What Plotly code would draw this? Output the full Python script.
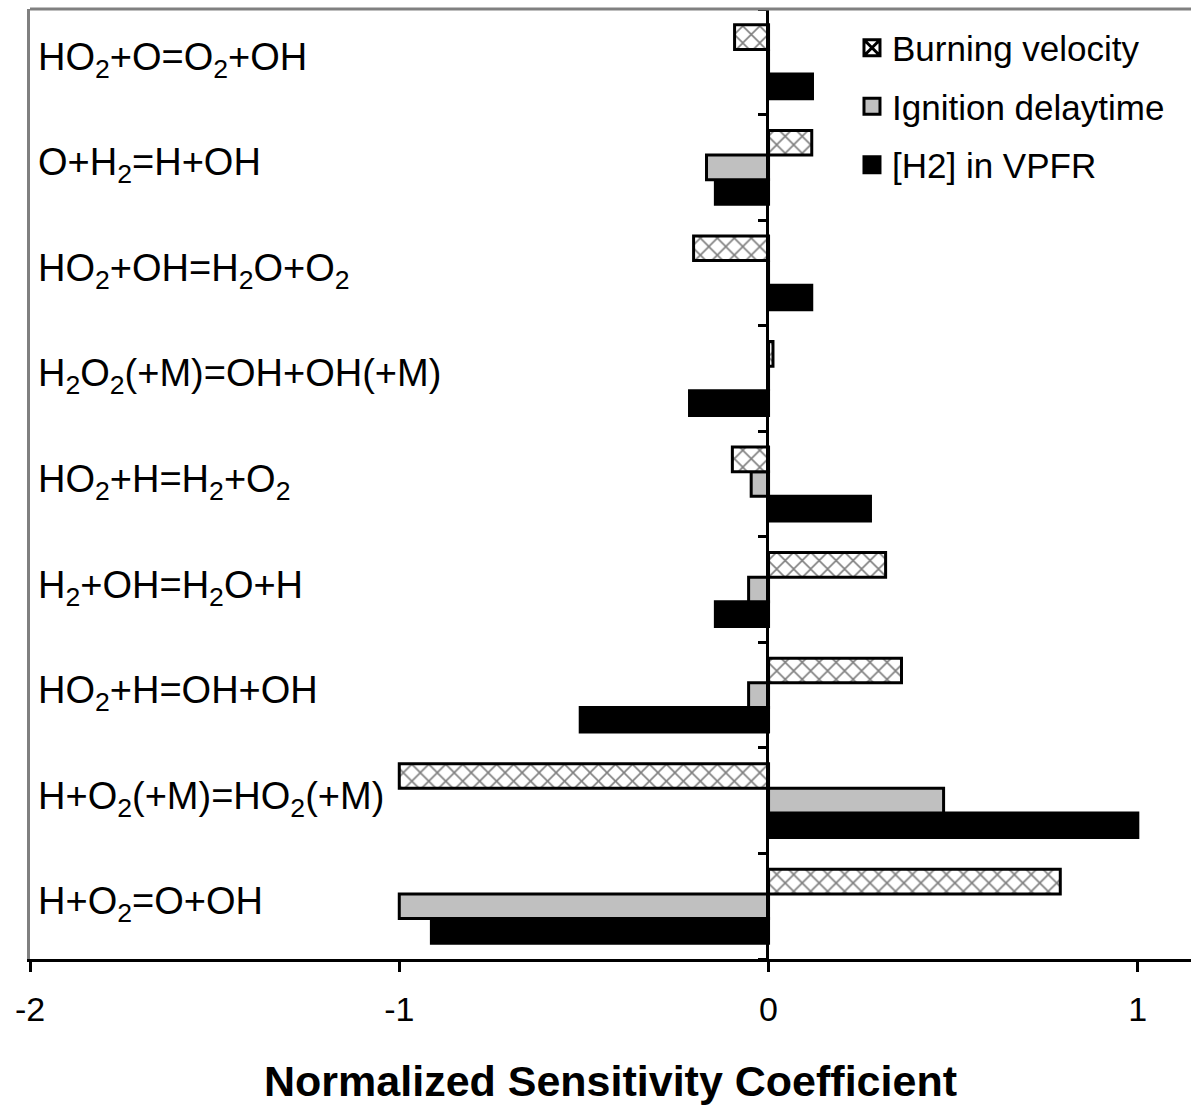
import plotly.graph_objects as go

# Reactions, listed from bottom to top of the chart
reactions = [
    "H+O<sub>2</sub>=O+OH",
    "H+O<sub>2</sub>(+M)=HO<sub>2</sub>(+M)",
    "HO<sub>2</sub>+H=OH+OH",
    "H<sub>2</sub>+OH=H<sub>2</sub>O+H",
    "HO<sub>2</sub>+H=H<sub>2</sub>+O<sub>2</sub>",
    "H<sub>2</sub>O<sub>2</sub>(+M)=OH+OH(+M)",
    "HO<sub>2</sub>+OH=H<sub>2</sub>O+O<sub>2</sub>",
    "O+H<sub>2</sub>=H+OH",
    "HO<sub>2</sub>+O=O<sub>2</sub>+OH",
]
burning_velocity = [0.79, -1.00, 0.36, 0.317, -0.098, 0.012, -0.203, 0.117, -0.092]
ignition_delay = [-1.00, 0.474, -0.054, -0.054, -0.047, 0.0, 0.0, -0.168, 0.0]
h2_vpfr = [-0.913, 1.00, -0.51, -0.144, 0.276, -0.214, 0.117, -0.144, 0.119]

series_names = ["Burning velocity", "Ignition delaytime", "[H2] in VPFR"]
x_tickvals = [-2, -1, 0, 1]
X_MIN, X_MAX = -2.0, 1.144

FONT = "Liberation Sans, Arial, sans-serif"

fig = go.Figure()

# In horizontal grouped bars the first trace sits lowest in each group
fig.add_trace(go.Bar(
    y=reactions, x=h2_vpfr, orientation="h", name=series_names[2],
    marker=dict(color="black", line=dict(color="black", width=3)),
    showlegend=False,
))
fig.add_trace(go.Bar(
    y=reactions, x=ignition_delay, orientation="h", name=series_names[1],
    marker=dict(color="#C0C0C0", line=dict(color="black", width=3)),
    showlegend=False,
))
fig.add_trace(go.Bar(
    y=reactions, x=burning_velocity, orientation="h", name=series_names[0],
    marker=dict(color="white", line=dict(color="black", width=3),
                pattern=dict(shape="x", fgcolor="black", bgcolor="white",
                             size=12, solidity=0.25, fillmode="overlay")),
    showlegend=False,
))

# legend-only entries (larger square swatches than the bar legend gives)
legend_markers = [
    dict(symbol="square-x", color="white", size=16, line=dict(color="black", width=3)),
    dict(symbol="square", color="#C0C0C0", size=16, line=dict(color="black", width=3)),
    dict(symbol="square", color="black", size=16, line=dict(color="black", width=3)),
]
for i, (nm, mk) in enumerate(zip(series_names, legend_markers)):
    fig.add_trace(go.Scatter(
        x=[None], y=[None], mode="markers", name=nm, marker=mk,
        legendrank=i + 1, legendgroup=nm, showlegend=True, hoverinfo="skip",
    ))

n = len(reactions)
zero_pos = (0 - X_MIN) / (X_MAX - X_MIN)

# helper trace for the zero-line axis that carries the category boundary ticks
fig.add_trace(go.Scatter(
    x=[0], y=[0], xaxis="x2", yaxis="y2", mode="markers",
    marker=dict(opacity=0), showlegend=False, hoverinfo="skip",
))

# category labels, written inside the plot at its left edge
annotations = [
    dict(text=r, xref="paper", x=0, yref="y", y=r, xanchor="left", yanchor="middle",
         xshift=6, yshift=2, showarrow=False,
         font=dict(size=38, family=FONT, color="black"))
    for r in reactions
]

fig.update_layout(
    width=1191, height=1107,
    margin=dict(l=30, r=0, t=9, b=148),
    paper_bgcolor="white", plot_bgcolor="rgba(0,0,0,0)",
    barmode="group", bargap=0.3, bargroupgap=0,
    font=dict(family=FONT, color="black"),
    showlegend=True,
    legend=dict(
        x=0.708, y=0.99, xanchor="left", yanchor="top",
        font=dict(size=35, family=FONT, color="black"),
        bgcolor="rgba(0,0,0,0)", traceorder="grouped", tracegroupgap=10,
        itemwidth=30,
    ),
    xaxis=dict(
        range=[X_MIN, X_MAX], tickvals=x_tickvals,
        ticktext=[str(v) for v in x_tickvals],
        showline=True, linecolor="black", linewidth=3,
        ticks="outside", ticklen=10, tickwidth=3, tickcolor="black",
        tickfont=dict(size=34, family=FONT, color="black"),
        ticklabelstandoff=8,
        showgrid=False, zeroline=False,
        title=dict(text="<b>Normalized Sensitivity Coefficient</b>",
                   font=dict(size=43, family=FONT, color="black"), standoff=40),
    ),
    yaxis=dict(
        type="category", categoryorder="array", categoryarray=reactions,
        range=[-0.5, n - 0.5],
        showline=True, linecolor="#808080", linewidth=3,
        ticks="", showticklabels=False,
        showgrid=False, zeroline=False,
    ),
    xaxis2=dict(
        domain=[zero_pos, 1], anchor="y2", range=[0, X_MAX],
        visible=False, showgrid=False, zeroline=False,
    ),
    yaxis2=dict(
        anchor="x2", side="left", range=[-0.5, n - 0.5],
        tickvals=[i + 0.5 for i in range(-1, n)],
        showline=True, linecolor="black", linewidth=3,
        ticks="outside", ticklen=8, tickwidth=3, tickcolor="black",
        showticklabels=False, showgrid=False, zeroline=False,
    ),
    annotations=annotations,
    shapes=[dict(type="line", xref="paper", yref="paper", x0=0, x1=1, y0=1, y1=1,
                 line=dict(color="#808080", width=3), layer="above")],
)

fig.write_html("out.html")
